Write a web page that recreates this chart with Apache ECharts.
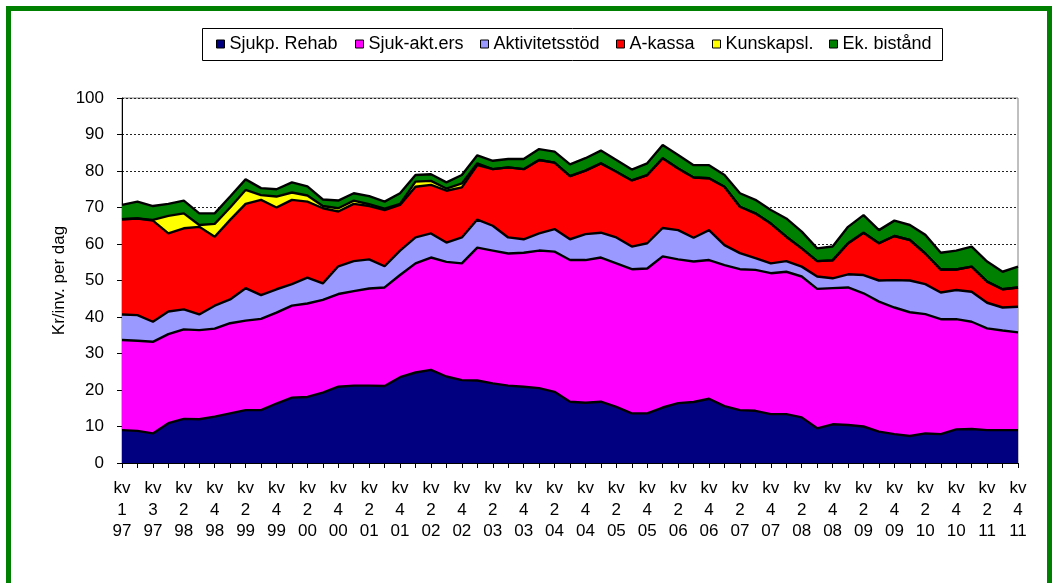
<!DOCTYPE html>
<html>
<head>
<meta charset="utf-8">
<script src="https://cdn.jsdelivr.net/npm/echarts@6/dist/echarts.min.js"></script>
<style>
html,body{margin:0;padding:0;background:#fff;}
#chart{position:absolute;left:0;top:0;width:1053px;height:583px;}
#frame{position:absolute;left:6px;top:6px;width:1036px;height:600px;border:5px solid #008000;pointer-events:none;}
</style>
</head>
<body>
<div id="chart"></div>
<div id="frame"></div>
<script>
const categories = [
 "kv\n1\n97","kv\n2\n97","kv\n3\n97","kv\n4\n97",
 "kv\n2\n98","kv\n3\n98","kv\n4\n98",
 "kv\n1\n99","kv\n2\n99","kv\n3\n99","kv\n4\n99",
 "kv\n1\n00","kv\n2\n00","kv\n3\n00","kv\n4\n00",
 "kv\n1\n01","kv\n2\n01","kv\n3\n01","kv\n4\n01",
 "kv\n1\n02","kv\n2\n02","kv\n3\n02","kv\n4\n02",
 "kv\n1\n03","kv\n2\n03","kv\n3\n03","kv\n4\n03",
 "kv\n1\n04","kv\n2\n04","kv\n3\n04","kv\n4\n04",
 "kv\n1\n05","kv\n2\n05","kv\n3\n05","kv\n4\n05",
 "kv\n1\n06","kv\n2\n06","kv\n3\n06","kv\n4\n06",
 "kv\n1\n07","kv\n2\n07","kv\n3\n07","kv\n4\n07",
 "kv\n1\n08","kv\n2\n08","kv\n3\n08","kv\n4\n08",
 "kv\n1\n09","kv\n2\n09","kv\n3\n09","kv\n4\n09",
 "kv\n1\n10","kv\n2\n10","kv\n3\n10","kv\n4\n10",
 "kv\n1\n11","kv\n2\n11","kv\n3\n11","kv\n4\n11"
];
const seriesNames = ["Sjukp. Rehab","Sjuk-akt.ers","Aktivitetsstöd","A-kassa","Kunskapsl.","Ek. bistånd"];
const sjukpRehab = [9.0,8.8,8.1,10.9,12.1,12.0,12.7,13.6,14.5,14.5,16.3,17.9,18.1,19.3,20.9,21.2,21.2,21.1,23.5,24.8,25.5,23.7,22.7,22.6,21.8,21.2,20.9,20.5,19.5,16.8,16.5,16.8,15.4,13.6,13.6,15.2,16.4,16.7,17.6,15.6,14.5,14.3,13.4,13.4,12.5,9.5,10.6,10.4,10.0,8.6,7.9,7.4,8.1,7.9,9.2,9.3,9.0,9.0,9.0];
const sjukAktErs = [24.7,24.7,25.1,24.4,24.5,24.4,24.1,24.7,24.5,25.0,24.9,25.2,25.6,25.4,25.4,25.9,26.6,27.0,28.0,29.9,30.8,31.4,32.0,36.4,36.4,36.2,36.7,37.7,38.4,38.8,39.1,39.5,39.3,39.5,39.7,41.4,39.4,38.5,38.0,38.6,38.6,38.6,38.6,39.0,38.6,38.2,37.3,37.7,36.5,35.6,34.7,33.9,32.7,31.5,30.2,29.4,27.9,27.3,26.8];
const aktivitetsstod = [7.0,7.0,5.5,6.2,5.5,4.3,6.3,6.5,8.9,6.5,6.4,5.9,7.1,4.5,7.6,8.2,8.0,5.8,6.7,7.1,6.6,5.3,7.1,7.7,6.8,4.4,3.7,4.7,6.2,5.7,7.1,6.8,7.1,6.2,6.9,7.8,8.0,6.5,8.2,5.5,4.4,3.2,2.7,2.9,2.7,3.4,2.7,3.6,5.0,5.8,7.5,8.7,8.2,7.3,8.0,8.2,7.0,6.3,7.0];
const aKassa = [26.1,26.5,27.7,21.4,22.2,24.0,18.9,21.8,23.1,26.1,22.4,23.1,20.8,20.6,15.0,15.7,14.6,15.4,12.5,13.9,13.3,14.2,13.7,14.9,15.5,19.2,19.2,20.1,18.2,17.3,17.4,19.0,18.0,18.1,18.7,19.1,16.9,16.5,14.2,16.0,12.7,12.3,10.9,6.7,5.0,4.2,4.9,8.5,11.6,10.2,12.1,11.1,8.4,6.3,5.6,6.9,5.8,5.0,5.3];
const kunskapsl = [0,0,0.2,4.8,4.1,0.5,3.5,3.4,3.8,1.3,3.0,2.0,1.7,0.6,0.9,0.9,0.5,0.4,0.3,1.4,1.1,0.6,1.1,0.5,0,0,0,0,0,0,0,0,0,0,0,0,0,0,0,0,0,0,0,0,0,0,0,0,0,0,0,0,0,0,0,0,0,0,0];
const ekBistand = [3.9,4.6,3.8,3.3,3.5,3.2,2.9,3.0,2.9,1.9,2.0,2.8,2.5,1.8,2.1,2.0,2.2,1.9,2.9,1.8,1.8,1.7,2.3,2.2,2.3,2.3,2.8,3.0,3.0,3.2,3.4,3.5,3.2,3.0,3.2,3.6,3.7,3.4,3.6,3.2,3.7,3.7,3.7,5.0,4.6,3.5,3.8,4.5,4.8,3.6,4.2,4.1,5.1,4.6,5.2,5.5,5.5,4.8,5.7];
const yTicks = [0,10,20,30,40,50,60,70,80,90,100];

const seriesData = [sjukpRehab, sjukAktErs, aktivitetsstod, aKassa, kunskapsl, ekBistand];
const colors = ["#000080","#FF00FF","#9999FF","#FF0000","#FFFF00","#008000"];
const legendLeft = [216, 355, 480, 616, 712, 829];
const FONT = "Liberation Sans, Arial, sans-serif";

const chart = echarts.init(document.getElementById('chart'), null, {renderer:'canvas'});

const areaSeries = seriesNames.map((n,i)=>({
  name:n, type:'line', stack:'area', data:seriesData[i],
  symbol:'none', showSymbol:false,
  lineStyle:{width:0, opacity:0},
  areaStyle:{color:colors[i], opacity:1},
  itemStyle:{color:colors[i]},
  z:2, silent:true
}));
const lineSeries = seriesNames.map((n,i)=>({
  name:'_line'+i, type:'line', stack:'outline', data:seriesData[i],
  symbol:'none', showSymbol:false,
  lineStyle:{width:2.4, color:'#000'},
  itemStyle:{color:'#000'},
  z:3, silent:true
}));

const option = {
  animation:false,
  backgroundColor:'#fff',
  grid:{left:122, right:35, top:98, bottom:120, show:true, borderColor:'#808080', borderWidth:1, backgroundColor:'transparent'},
  legend: seriesNames.map((n,i)=>({
    data:[n], left:legendLeft[i], top:35, padding:0,
    itemWidth:8, itemHeight:8, icon:'rect',
    itemStyle:{borderColor:'#000', borderWidth:1},
    textStyle:{fontFamily:FONT, fontSize:18, color:'#000'},
    selectedMode:false
  })),
  graphic:[{type:'rect', shape:{x:202.5, y:28.5, width:740, height:32}, style:{fill:'none', stroke:'#000', lineWidth:1}, silent:true}],
  xAxis:{
    type:'category', data:categories, boundaryGap:false,
    axisLine:{lineStyle:{color:'#000', width:1}},
    axisTick:{show:true, interval:0, length:5, lineStyle:{color:'#000'}},
    axisLabel:{interval:1, color:'#000', fontFamily:FONT, fontSize:17, lineHeight:21.5, margin:15},
    splitLine:{show:false}
  },
  yAxis:{
    type:'value', min:yTicks[0], max:yTicks[yTicks.length-1], interval:yTicks[1]-yTicks[0],
    name:'Kr/inv. per dag', nameLocation:'middle', nameGap:54, nameRotate:90, nameMoveOverlap:false,
    nameTextStyle:{fontFamily:FONT, fontSize:17, color:'#000'},
    axisLine:{show:true, lineStyle:{color:'#000', width:1}},
    axisTick:{show:true, length:5, lineStyle:{color:'#000'}},
    axisLabel:{color:'#000', fontFamily:FONT, fontSize:17, margin:18},
    splitLine:{show:true, lineStyle:{color:'#222', type:[2,2], width:1}}
  },
  series: areaSeries.concat(lineSeries)
};
chart.setOption(option);
</script>
</body>
</html>
